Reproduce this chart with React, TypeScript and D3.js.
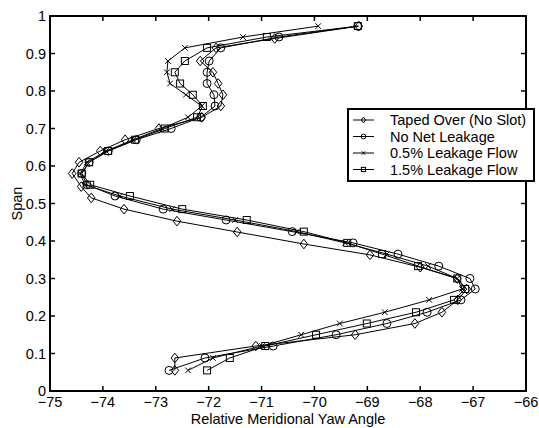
import React from 'react';
import * as d3 from 'd3';

// span levels
const spanA = [0.973, 0.944, 0.915, 0.88, 0.85, 0.82, 0.79, 0.76, 0.73, 0.70, 0.67, 0.64, 0.61, 0.58, 0.55, 0.52, 0.485, 0.456, 0.425, 0.395, 0.365, 0.333, 0.30, 0.272, 0.243, 0.21, 0.18, 0.15, 0.12, 0.088, 0.055];
const spanTaped = [0.973, 0.94, 0.915, 0.88, 0.85, 0.82, 0.79, 0.76, 0.73, 0.70, 0.67, 0.64, 0.61, 0.58, 0.545, 0.515, 0.485, 0.453, 0.424, 0.392, 0.363, 0.33, 0.30, 0.272, 0.243, 0.21, 0.18, 0.15, 0.12, 0.088, 0.055];

const tapedYaw = [-69.16, -70.75, -71.86, -72.16, -71.92, -71.82, -71.73, -71.77, -72.13, -72.94, -73.58, -74.05, -74.45, -74.58, -74.41, -74.22, -73.60, -72.60, -71.46, -70.20, -68.95, -68.00, -67.30, -67.12, -67.29, -67.59, -68.10, -69.23, -71.11, -72.64, -72.64];
const noNetYaw = [-69.18, -70.67, -71.77, -71.99, -72.03, -72.03, -71.90, -71.88, -72.15, -72.71, -73.37, -73.90, -74.26, -74.40, -74.30, -73.77, -72.86, -71.67, -70.42, -69.27, -68.42, -67.65, -67.06, -66.96, -67.23, -67.87, -68.63, -69.59, -70.78, -72.07, -72.75];
const half5Yaw = [-69.93, -71.35, -72.45, -72.77, -72.79, -72.73, -72.43, -72.13, -72.39, -72.88, -73.43, -73.94, -74.30, -74.43, -74.34, -73.68, -72.69, -71.50, -70.33, -69.42, -68.63, -67.85, -67.30, -67.21, -67.83, -68.67, -69.52, -70.25, -70.99, -71.92, -72.39];
const one5Yaw = [-69.18, -70.90, -72.03, -72.45, -72.64, -72.54, -72.30, -72.11, -72.22, -72.83, -73.39, -73.90, -74.26, -74.40, -74.24, -73.49, -72.50, -71.28, -70.20, -69.38, -68.72, -68.04, -67.30, -67.15, -67.36, -68.08, -69.01, -69.97, -70.93, -71.60, -72.03];

const seriesNames = ['Taped Over (No Slot)', 'No Net Leakage', '0.5% Leakage Flow', '1.5% Leakage Flow'];
const seriesMarkers = ['diamond', 'circle', 'cross', 'square'];

const xTicks = [-75, -74, -73, -72, -71, -70, -69, -68, -67, -66];
const yTicks = [0, 0.1, 0.2, 0.3, 0.4, 0.5, 0.6, 0.7, 0.8, 0.9, 1];

const W = 539;
const H = 428;
const m = { left: 50, right: 526, top: 16, bottom: 391 };
const font = '"Liberation Sans", Arial, Helvetica, sans-serif';

function Marker({ kind, x, y, s = 1 }: { kind: string; x: number; y: number; s?: number }) {
  const common = { fill: 'none', stroke: '#000', strokeWidth: 1 };
  if (kind === 'circle') return <circle cx={x} cy={y} r={4 * s} {...common} />;
  if (kind === 'square') return <rect x={x - 3.5 * s} y={y - 3.5 * s} width={7 * s} height={7 * s} {...common} />;
  if (kind === 'diamond') {
    const a = 3.8 * s, b = 4.8 * s;
    return <path d={`M${x},${y - b}L${x + a},${y}L${x},${y + b}L${x - a},${y}Z`} {...common} />;
  }
  const c = 2.8 * s;
  return <path d={`M${x - c},${y - c}L${x + c},${y + c}M${x - c},${y + c}L${x + c},${y - c}`} {...common} />;
}

export default function App() {
  const x = d3.scaleLinear().domain([-75, -66]).range([m.left, m.right]);
  const y = d3.scaleLinear().domain([0, 1]).range([m.bottom, m.top]);

  const series = [
    { yaw: tapedYaw, span: spanTaped },
    { yaw: noNetYaw, span: spanA },
    { yaw: half5Yaw, span: spanA },
    { yaw: one5Yaw, span: spanA },
  ];

  const line = d3.line<[number, number]>().x(d => x(d[0])).y(d => y(d[1]));

  const lgX = 348, lgY = 109, lgW = 186, lgH = 72;
  const rowY = [120, 136.5, 153, 169.5];

  return (
    <svg width={W} height={H} style={{ position: 'absolute', left: 0, top: 0, background: '#fff' }} fontFamily={font}>
      <rect width={W} height={H} fill="#fff" />
      {series.map((s, i) => {
        const pts = s.yaw.map((v, j) => [v, s.span[j]] as [number, number]);
        return (
          <g key={i}>
            <path d={line(pts) || ''} fill="none" stroke="#000" strokeWidth={1} />
            {pts.map((p, j) => <Marker key={j} kind={seriesMarkers[i]} x={x(p[0])} y={y(p[1])} />)}
          </g>
        );
      })}
      {/* box and ticks */}
      <rect x={m.left} y={m.top} width={m.right - m.left} height={m.bottom - m.top} fill="none" stroke="#000" strokeWidth={2} />
      {xTicks.map(t => (
        <g key={t}>
          <line x1={x(t)} x2={x(t)} y1={m.bottom} y2={m.bottom - 5} stroke="#000" strokeWidth={1.5} />
          <line x1={x(t)} x2={x(t)} y1={m.top} y2={m.top + 5} stroke="#000" strokeWidth={1.5} />
          <text x={x(t)} y={407} textAnchor="middle" fontSize={14.5}>{t < 0 ? '\u2212' + Math.abs(t) : t}</text>
        </g>
      ))}
      {yTicks.map(t => (
        <g key={t}>
          <line x1={m.left} x2={m.left + 5} y1={y(t)} y2={y(t)} stroke="#000" strokeWidth={1.5} />
          <line x1={m.right} x2={m.right - 5} y1={y(t)} y2={y(t)} stroke="#000" strokeWidth={1.5} />
          <text x={46} y={y(t)} dy="0.35em" textAnchor="end" fontSize={14.5}>{d3.format('~g')(t)}</text>
        </g>
      ))}
      <text x={288} y={424} textAnchor="middle" fontSize={14.5}>Relative Meridional Yaw Angle</text>
      <text transform={`translate(22,${(m.top + m.bottom) / 2}) rotate(-90)`} textAnchor="middle" fontSize={14.5}>Span</text>
      {/* legend */}
      <rect x={lgX} y={lgY} width={lgW} height={lgH} fill="#fff" stroke="#000" strokeWidth={2} />
      {seriesNames.map((name, i) => (
        <g key={name}>
          <line x1={lgX + 5} x2={lgX + 26} y1={rowY[i]} y2={rowY[i]} stroke="#000" strokeWidth={1} />
          <Marker kind={seriesMarkers[i]} x={lgX + 15.5} y={rowY[i]} s={0.6} />
          <text x={lgX + 42} y={rowY[i]} dy="0.35em" fontSize={14.5}>{name}</text>
        </g>
      ))}
    </svg>
  );
}
